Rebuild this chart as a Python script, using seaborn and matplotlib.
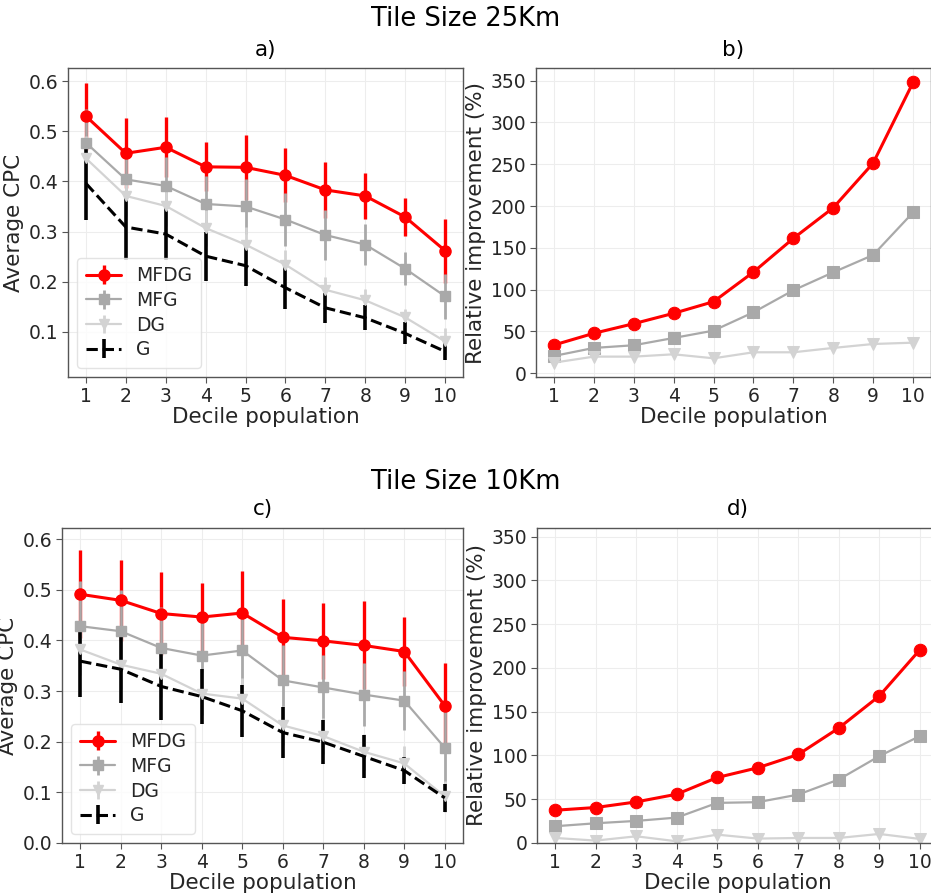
import numpy as np
import pandas as pd
import matplotlib
matplotlib.use("Agg")
import matplotlib.pyplot as plt
import seaborn as sns

# decile index shared by all panels
deciles = list(range(1, 11))
series_names = ["MFDG", "MFG", "DG", "G"]

# --- Tile size 25Km: average CPC (mean, error) ---
cpc25_mfdg = [0.530, 0.456, 0.468, 0.429, 0.428, 0.412, 0.383, 0.371, 0.329, 0.262]
cpc25_mfdg_err = [0.067, 0.070, 0.060, 0.049, 0.065, 0.054, 0.056, 0.046, 0.038, 0.064]
cpc25_mfg = [0.477, 0.404, 0.391, 0.355, 0.350, 0.324, 0.293, 0.274, 0.226, 0.171]
cpc25_mfg_err = [0.068, 0.060, 0.058, 0.055, 0.055, 0.052, 0.050, 0.041, 0.033, 0.045]
cpc25_dg = [0.446, 0.371, 0.351, 0.307, 0.274, 0.234, 0.184, 0.163, 0.129, 0.081]
cpc25_dg_err = [0.045, 0.040, 0.040, 0.035, 0.035, 0.030, 0.025, 0.022, 0.017, 0.027]
cpc25_g = [0.396, 0.309, 0.295, 0.251, 0.232, 0.188, 0.148, 0.128, 0.097, 0.061]
cpc25_g_err = [0.072, 0.065, 0.052, 0.049, 0.040, 0.042, 0.030, 0.025, 0.022, 0.017]

# --- Tile size 25Km: relative improvement (%) ---
imp25_mfdg = [33.8, 47.8, 59.3, 71.7, 85.6, 121.0, 161.3, 197.9, 251.3, 347.7]
imp25_mfg = [20.7, 30.3, 33.5, 42.2, 51.0, 72.9, 99.2, 120.7, 141.4, 192.3]
imp25_dg = [12.7, 19.9, 19.9, 22.7, 17.9, 25.1, 25.1, 30.3, 35.0, 36.6]

# --- Tile size 10Km: average CPC (mean, error) ---
cpc10_mfdg = [0.491, 0.479, 0.453, 0.446, 0.454, 0.406, 0.399, 0.390, 0.378, 0.271]
cpc10_mfdg_err = [0.087, 0.080, 0.081, 0.067, 0.082, 0.076, 0.075, 0.087, 0.068, 0.084]
cpc10_mfg = [0.428, 0.418, 0.385, 0.370, 0.380, 0.321, 0.307, 0.293, 0.281, 0.188]
cpc10_mfg_err = [0.090, 0.082, 0.080, 0.075, 0.078, 0.070, 0.065, 0.062, 0.058, 0.076]
cpc10_dg = [0.382, 0.352, 0.334, 0.295, 0.285, 0.232, 0.211, 0.180, 0.157, 0.092]
cpc10_dg_err = [0.050, 0.048, 0.045, 0.042, 0.040, 0.038, 0.036, 0.035, 0.034, 0.030]
cpc10_g = [0.359, 0.343, 0.309, 0.289, 0.261, 0.218, 0.199, 0.171, 0.143, 0.089]
cpc10_g_err = [0.071, 0.067, 0.067, 0.054, 0.051, 0.051, 0.044, 0.042, 0.027, 0.027]

# --- Tile size 10Km: relative improvement (%) ---
imp10_mfdg = [37.4, 40.5, 46.9, 55.7, 74.8, 85.9, 101.1, 131.3, 167.9, 220.6]
imp10_mfg = [19.1, 22.5, 25.2, 29.0, 45.8, 46.6, 55.3, 72.5, 99.2, 122.1]
imp10_dg = [5.7, 2.7, 7.6, 1.9, 9.5, 5.0, 5.7, 5.7, 10.3, 4.6]

# per-series styling
styles = {
    "MFDG": dict(color="#ff0000", marker="o", ms=8, lw=2.2, ls="-", elw=2.4),
    "MFG": dict(color="#a9a9a9", marker="s", ms=7, lw=1.6, ls="-", elw=2.0),
    "DG": dict(color="#d3d3d3", marker="v", ms=7, lw=1.6, ls="-", elw=2.0),
    "G": dict(color="black", marker="", ms=0, lw=2.2, ls="--", elw=2.6),
}

sns.set_theme(style="whitegrid")
plt.rcParams["font.family"] = ["DejaVu Sans"]

LABEL_FS = 15.5
TICK_FS = 13.5


def style_axes(ax):
    ax.grid(True, color="#ededed", linewidth=0.8)
    for sp in ax.spines.values():
        sp.set_color("#555555")
        sp.set_linewidth(1.0)
    ax.tick_params(axis="both", which="major", labelsize=TICK_FS, length=4,
                   width=0.8, color="#555555", left=True, bottom=True,
                   labelcolor="#262626", pad=3)
    ax.set_xticks(deciles)
    ax.set_xlim(0.55, 10.45)
    ax.set_xlabel("Decile population", fontsize=LABEL_FS, color="#262626", labelpad=1)


def cpc_panel(ax, means, errs, title, ylim, yticks):
    for name, m, e in zip(series_names, means, errs):
        st = styles[name]
        ax.errorbar(deciles, m, yerr=e, color=st["color"], marker=st["marker"] or None,
                    ms=st["ms"], lw=st["lw"], ls=st["ls"], elinewidth=st["elw"],
                    capsize=0, label=name)
    style_axes(ax)
    ax.set_ylim(*ylim)
    ax.set_yticks(yticks)
    ax.set_ylabel("Average CPC", fontsize=LABEL_FS, color="#262626", labelpad=3)
    ax.set_title(title, fontsize=LABEL_FS, pad=9, color="black")
    leg = ax.legend(loc="lower left", fontsize=13.5, frameon=True, handlelength=1.9,
                    borderaxespad=0.5, labelspacing=0.3, borderpad=0.45)
    leg.get_frame().set_edgecolor("#dddddd")
    leg.get_frame().set_alpha(0.8)


def imp_panel(ax, series, title, ylim):
    df = pd.DataFrame({"decile": deciles * 3,
                       "value": series[0] + series[1] + series[2],
                       "method": ["MFDG"] * 10 + ["MFG"] * 10 + ["DG"] * 10})
    for name in ["MFDG", "MFG", "DG"]:
        st = styles[name]
        sns.lineplot(data=df[df["method"] == name], x="decile", y="value", ax=ax,
                     color=st["color"], marker=st["marker"], markersize=st["ms"] + 1,
                     markeredgecolor=st["color"], linewidth=st["lw"], errorbar=None)
    style_axes(ax)
    ax.set_ylim(*ylim)
    ax.set_yticks(np.arange(0, 351, 50))
    ax.set_ylabel("Relative improvement (%)", fontsize=LABEL_FS, color="#262626", labelpad=3)
    ax.set_title(title, fontsize=LABEL_FS, pad=9, color="black")


fig = plt.figure(figsize=(9.31, 8.96), dpi=100)
ax_a = fig.add_axes([0.0730, 0.5792, 0.4243, 0.3449])
ax_b = fig.add_axes([0.5757, 0.5792, 0.4243, 0.3449])
ax_c = fig.add_axes([0.0666, 0.0592, 0.4307, 0.3516])
ax_d = fig.add_axes([0.5768, 0.0592, 0.4307, 0.3516])

cpc_panel(ax_a, [cpc25_mfdg, cpc25_mfg, cpc25_dg, cpc25_g],
          [cpc25_mfdg_err, cpc25_mfg_err, cpc25_dg_err, cpc25_g_err],
          "a)", (0.01, 0.626), [0.1, 0.2, 0.3, 0.4, 0.5, 0.6])
imp_panel(ax_b, [imp25_mfdg, imp25_mfg, imp25_dg], "b)", (-4.5, 365))
cpc_panel(ax_c, [cpc10_mfdg, cpc10_mfg, cpc10_dg, cpc10_g],
          [cpc10_mfdg_err, cpc10_mfg_err, cpc10_dg_err, cpc10_g_err],
          "c)", (0.0, 0.622), [0.0, 0.1, 0.2, 0.3, 0.4, 0.5, 0.6])
imp_panel(ax_d, [imp10_mfdg, imp10_mfg, imp10_dg], "d)", (0, 360))

fig.text(0.5, 0.979, "Tile Size 25Km", ha="center", va="center", fontsize=18.5, color="black")
fig.text(0.5, 0.462, "Tile Size 10Km", ha="center", va="center", fontsize=18.5, color="black")

fig.savefig("out.png", dpi=100, facecolor="white")
